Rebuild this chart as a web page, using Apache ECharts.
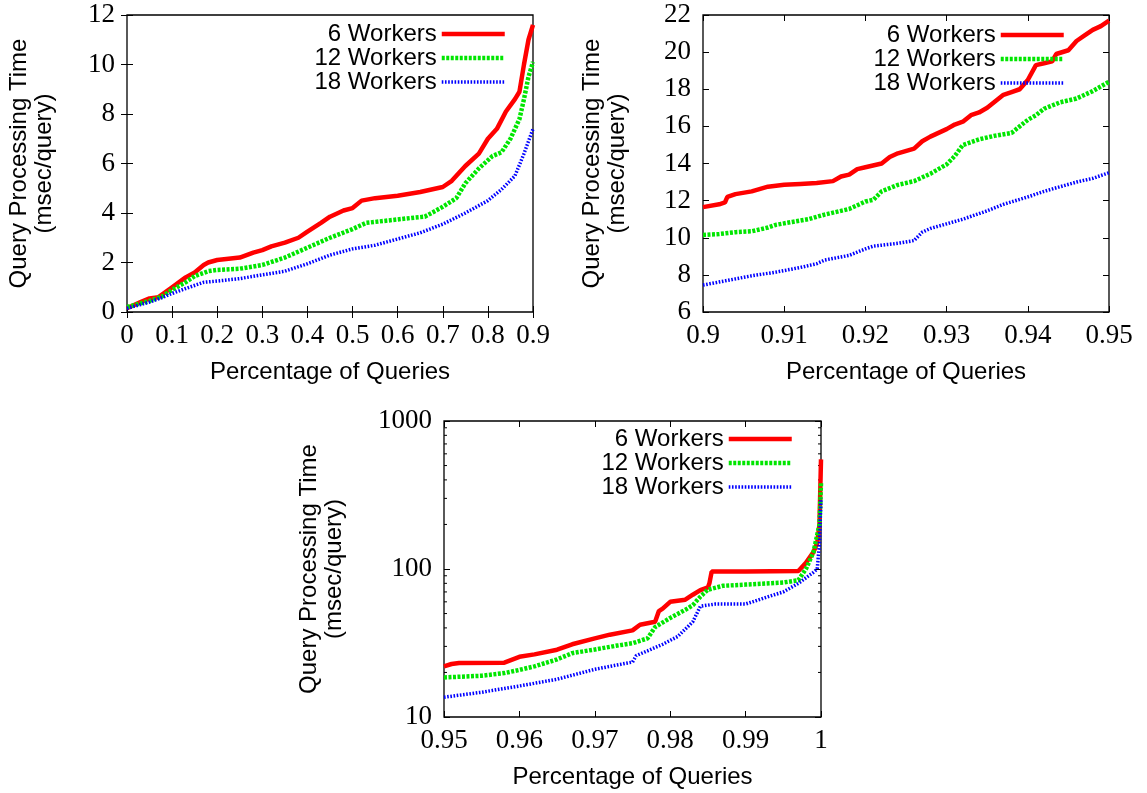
<!DOCTYPE html>
<html><head><meta charset="utf-8">
<script src="https://cdn.jsdelivr.net/npm/echarts@6/dist/echarts.min.js"></script>
<style>html,body{margin:0;padding:0;background:#fff}#c{width:1147px;height:793px}</style>
</head><body><div id="c"></div>
<script>
// ---------- DATA ----------
const seriesNames = ['6 Workers', '12 Workers', '18 Workers'];

// Plot 1 (0 - 0.9)
const p1X6 = [0,0.03,0.05,0.07,0.1,0.13,0.15,0.17,0.18,0.2,0.25,0.28,0.3,0.32,0.35,0.38,0.4,0.43,0.45,0.48,0.5,0.52,0.55,0.6,0.65,0.7,0.72,0.75,0.78,0.8,0.82,0.84,0.86,0.87,0.88,0.89,0.9];
const p1Y6 = [0.15,0.4,0.55,0.6,1.0,1.4,1.6,1.9,2.0,2.1,2.2,2.4,2.5,2.65,2.8,3.0,3.25,3.6,3.85,4.1,4.2,4.5,4.6,4.7,4.85,5.05,5.3,5.9,6.4,7.0,7.4,8.1,8.6,8.9,10.0,11.0,11.6];
const p1X12 = [0,0.05,0.08,0.1,0.13,0.15,0.18,0.2,0.25,0.3,0.35,0.4,0.45,0.5,0.53,0.58,0.63,0.66,0.7,0.73,0.75,0.78,0.81,0.83,0.85,0.87,0.88,0.89,0.9];
const p1Y12 = [0.2,0.45,0.65,0.9,1.2,1.45,1.65,1.7,1.75,1.9,2.2,2.6,3.0,3.35,3.6,3.7,3.8,3.85,4.25,4.6,5.2,5.8,6.3,6.45,7.0,7.8,8.6,9.5,10.1];
const p1X18 = [0,0.05,0.08,0.1,0.13,0.17,0.2,0.25,0.3,0.35,0.4,0.45,0.5,0.55,0.6,0.65,0.7,0.75,0.8,0.83,0.86,0.88,0.9];
const p1Y18 = [0.15,0.4,0.6,0.75,0.95,1.2,1.25,1.35,1.5,1.65,1.95,2.3,2.55,2.7,2.95,3.2,3.55,4.0,4.5,4.95,5.5,6.4,7.4];

// Plot 2 (0.9 - 0.95)
const p2X6 = [0.9,0.902,0.9027,0.903,0.904,0.906,0.908,0.91,0.912,0.914,0.916,0.917,0.918,0.919,0.92,0.922,0.923,0.924,0.926,0.927,0.928,0.93,0.931,0.932,0.933,0.934,0.935,0.936,0.937,0.938,0.939,0.94,0.941,0.942,0.943,0.9435,0.945,0.946,0.947,0.948,0.949,0.95];
const p2Y6 = [11.65,11.8,11.9,12.2,12.35,12.5,12.75,12.85,12.9,12.95,13.05,13.3,13.4,13.7,13.8,14.0,14.35,14.55,14.8,15.2,15.45,15.85,16.1,16.25,16.6,16.75,17.0,17.35,17.7,17.85,18.0,18.5,19.3,19.4,19.5,19.9,20.1,20.6,20.9,21.2,21.4,21.7];
const p2X12 = [0.9,0.902,0.904,0.906,0.908,0.909,0.911,0.913,0.915,0.917,0.918,0.92,0.921,0.922,0.924,0.926,0.928,0.93,0.931,0.932,0.934,0.936,0.938,0.939,0.94,0.941,0.942,0.944,0.946,0.948,0.95];
const p2Y12 = [10.15,10.2,10.3,10.35,10.55,10.7,10.85,11.0,11.25,11.45,11.55,11.95,12.05,12.5,12.85,13.05,13.45,13.95,14.4,15.0,15.3,15.5,15.65,16.0,16.35,16.6,16.95,17.3,17.5,17.9,18.4];
const p2X18 = [0.9,0.903,0.906,0.909,0.912,0.914,0.915,0.918,0.92,0.921,0.924,0.926,0.927,0.928,0.93,0.932,0.935,0.937,0.94,0.942,0.944,0.946,0.948,0.95];
const p2Y18 = [7.45,7.7,7.95,8.15,8.4,8.6,8.8,9.05,9.4,9.55,9.7,9.85,10.3,10.5,10.75,11.0,11.45,11.8,12.2,12.5,12.75,13.0,13.2,13.5];

// Plot 3 (0.95 - 1, log scale)
const p3X6 = [0.95,0.951,0.952,0.958,0.96,0.962,0.965,0.967,0.97,0.972,0.975,0.976,0.977,0.978,0.9785,0.979,0.98,0.982,0.983,0.984,0.985,0.9852,0.9855,0.99,0.997,0.998,0.999,0.9995,0.9998,1.0];
const p3Y6 = [22,22.8,23.2,23.3,25.5,26.5,28.5,31,34,36,38.5,42,43,44,52,54,60,62,67,72,75,80,96,96,97,110,130,150,200,550];
const p3X12 = [0.95,0.955,0.958,0.96,0.962,0.965,0.967,0.97,0.973,0.975,0.977,0.978,0.98,0.982,0.983,0.984,0.985,0.987,0.99,0.995,0.997,0.998,0.999,0.9998,1.0];
const p3Y12 = [18.5,19,19.8,20.8,22,24.5,27,28.6,30.4,31.5,34,40.5,46.7,53,57,65,72.5,77,78.5,81,84,100,130,200,380];
const p3X18 = [0.95,0.955,0.96,0.965,0.97,0.974,0.975,0.9755,0.977,0.979,0.981,0.983,0.984,0.986,0.99,0.993,0.995,0.997,0.999,0.9995,0.9998,1.0];
const p3Y18 = [13.6,14.7,16.2,18,21,23,23.5,26,28,31,35,44,56,58,58,65,70,80,95,100,150,300];

// minor tick values for the log axis
const logMinorTicks = [20,30,40,50,60,70,80,90,200,300,400,500,600,700,800,900];

const colors = ['#ff0000', '#00e600', '#0000ff'];
const widths = [4.5, 4.5, 3.5];
const dashes = ['solid', [3, 1.5], [1.6, 1.6]];

// ---------- CHART ----------
const zip = (xs, ys) => xs.map((x, i) => [x, ys[i]]);
const sans = 'Liberation Sans';
const serif = 'Liberation Serif';

const grids = [
  {left: 127, top: 15, width: 406, height: 297},
  {left: 703, top: 15, width: 406, height: 297},
  {left: 444, top: 421, width: 377, height: 296}
];
const xRanges = [[0, 0.9, 0.1], [0.9, 0.95, 0.01], [0.95, 1, 0.01]];
const yRanges = [[0, 12, 2], [6, 22, 2], [10, 1000, null]];
const yNameGaps = [70, 73, 97];

const option = {
  animation: false,
  backgroundColor: '#fff',
  grid: grids.map(g => Object.assign({show: true, borderColor: '#000', borderWidth: 1.3, backgroundColor: 'transparent'}, g)),
  xAxis: [], yAxis: [], series: [], legend: []
};

grids.forEach((g, gi) => {
  const [xmin, xmax, xint] = xRanges[gi];
  option.xAxis.push({
    type: 'value', gridIndex: gi, position: 'bottom', min: xmin, max: xmax, interval: xint,
    name: 'Percentage of Queries', nameLocation: 'middle', nameGap: 48,
    nameTextStyle: {fontFamily: sans, fontSize: 24, color: '#000'},
    axisLine: {show: false}, splitLine: {show: false},
    axisTick: {show: true, inside: true, length: 6, lineStyle: {color: '#000', width: 1}},
    axisLabel: {fontFamily: serif, fontSize: 27, color: '#000', margin: 10, showMinLabel: true, showMaxLabel: true,
      formatter: v => String(+v.toFixed(3))}
  });
  option.xAxis.push({
    type: 'value', gridIndex: gi, position: 'top', min: xmin, max: xmax, interval: xint,
    axisLine: {show: false}, splitLine: {show: false}, axisLabel: {show: false},
    axisTick: {show: true, inside: true, length: 6, lineStyle: {color: '#000', width: 1}}
  });
  const [ymin, ymax, yint] = yRanges[gi];
  const isLog = gi === 2;
  const yBase = {
    type: isLog ? 'log' : 'value', gridIndex: gi, min: ymin, max: ymax,
    axisLine: {show: false}, splitLine: {show: false},
    axisTick: {show: true, inside: true, length: 6, lineStyle: {color: '#000', width: 1}}
  };
  if (isLog) yBase.logBase = 10; else yBase.interval = yint;
  option.yAxis.push(Object.assign({}, yBase, {
    position: 'left',
    name: 'Query Processing Time\n(msec/query)', nameLocation: 'middle', nameGap: yNameGaps[gi], nameRotate: 90,
    nameTextStyle: {fontFamily: sans, fontSize: 24, color: '#000', lineHeight: 25},
    axisLabel: {fontFamily: serif, fontSize: 27, color: '#000', margin: 12, showMinLabel: true, showMaxLabel: true,
      formatter: v => String(Math.round(v))}
  }));
  option.yAxis.push(Object.assign({}, yBase, {position: 'right', axisLabel: {show: false}}));
});

const plotData = [
  [[p1X6, p1Y6], [p1X12, p1Y12], [p1X18, p1Y18]],
  [[p2X6, p2Y6], [p2X12, p2Y12], [p2X18, p2Y18]],
  [[p3X6, p3Y6], [p3X12, p3Y12], [p3X18, p3Y18]]
];

plotData.forEach((sets, gi) => {
  sets.forEach(([xs, ys], si) => {
    option.series.push({
      type: 'line', name: seriesNames[si], xAxisIndex: gi * 2, yAxisIndex: gi * 2,
      data: zip(xs, ys), showSymbol: false, symbol: 'none', clip: true,
      lineStyle: {color: colors[si], width: widths[si], type: dashes[si]},
      itemStyle: {color: colors[si]}, z: 2 + si
    });
  });
});

option.series.push({
  type: 'custom', xAxisIndex: 4, yAxisIndex: 4, silent: true, clip: false,
  data: logMinorTicks.map(v => [v]),
  renderItem: (params, api) => {
    const v = api.value(0);
    const l = api.coord([0.95, v]);
    const r = api.coord([1.0, v]);
    const st = {stroke: '#000', lineWidth: 1};
    return {type: 'group', children: [
      {type: 'line', shape: {x1: l[0], y1: l[1], x2: l[0] + 3, y2: l[1]}, style: st},
      {type: 'line', shape: {x1: r[0], y1: r[1], x2: r[0] - 3, y2: r[1]}, style: st}
    ]};
  },
  encode: {y: 0}
});

const legendPos = [{right: 640, top: 22}, {right: 81, top: 23}, {right: 353, top: 427}];
legendPos.forEach(p => {
  option.legend.push(Object.assign({
    show: true, orient: 'vertical', align: 'right', padding: 0, itemGap: 0,
    itemWidth: 63, itemHeight: 14, selectedMode: false,
    itemStyle: {opacity: 0},
    data: seriesNames.map((n, i) => ({name: n, lineStyle: {width: widths[i]}})),
    formatter: '{t|{name}}',
    textStyle: {color: '#000', fontFamily: sans, fontSize: 24,
      rich: {t: {fontFamily: sans, fontSize: 24, color: '#000', width: 125, align: 'right', lineHeight: 23}}}
  }, p));
});

const chart = echarts.init(document.getElementById('c'), null, {renderer: 'canvas'});
chart.setOption(option);
</script>
</body></html>
